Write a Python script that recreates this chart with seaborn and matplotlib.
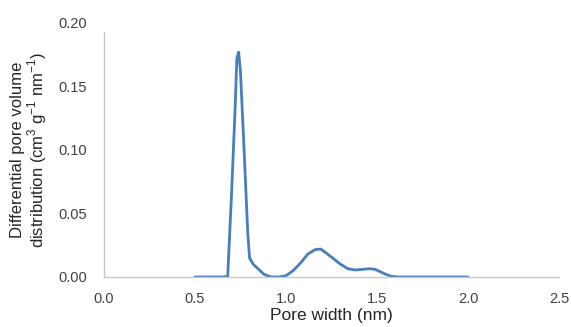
import matplotlib
matplotlib.use('Agg')
import matplotlib.pyplot as plt
import seaborn as sns
import pandas as pd

# pore size distribution
pore_width = [0.50, 0.55, 0.60, 0.65, 0.68, 0.70, 0.72, 0.73, 0.74, 0.75, 0.77, 0.79, 0.80,
              0.82, 0.85, 0.88, 0.92, 0.96, 1.00, 1.04, 1.08, 1.12, 1.16, 1.19, 1.22, 1.26,
              1.30, 1.34, 1.38, 1.42, 1.46, 1.49, 1.52, 1.55, 1.58, 1.62, 1.70, 1.80, 1.90, 2.00]
diff_volume = [0.0, 0.0, 0.0, 0.0, 0.0005, 0.062, 0.13, 0.172, 0.177, 0.162, 0.10, 0.035, 0.015,
               0.010, 0.006, 0.002, 0.0, 0.0, 0.001, 0.005, 0.011, 0.018, 0.0215, 0.022, 0.019, 0.0145,
               0.010, 0.0065, 0.0055, 0.006, 0.0065, 0.006, 0.004, 0.002, 0.0005, 0.0, 0.0, 0.0, 0.0, 0.0]

x_ticks = [0.0, 0.5, 1.0, 1.5, 2.0, 2.5]
y_ticks = [0.00, 0.05, 0.10, 0.15, 0.20]

df = pd.DataFrame({'w': pore_width, 'v': diff_volume})

sns.set_style('white')
plt.rcParams['font.family'] = ['Liberation Sans', 'DejaVu Sans']
plt.rcParams['mathtext.fontset'] = 'custom'
plt.rcParams['mathtext.rm'] = 'Liberation Sans'

fig = plt.figure(figsize=(5.71, 3.27), dpi=100)
ax = fig.add_axes([0.182, 0.153, 0.797, 0.777])

sns.lineplot(data=df, x='w', y='v', color='#4a7ebb', linewidth=2, ax=ax, estimator=None)

ax.set_xlim(0, 2.5)
ax.set_ylim(0, 0.2)
ax.set_xticks(x_ticks)
ax.set_yticks(y_ticks)
ax.set_xticklabels([f'{t:.1f}' for t in x_ticks])
ax.set_yticklabels([f'{t:.2f}' for t in y_ticks])

for s in ['top', 'right']:
    ax.spines[s].set_visible(False)
for s in ['left', 'bottom']:
    ax.spines[s].set_color('#c8c8c8')
    ax.spines[s].set_linewidth(1)
# the y spine stops a little short of the top label in the original
ax.spines['left'].set_bounds(0, 0.193)
ax.yaxis.get_major_ticks()[-1].tick1line.set_visible(False)
ax.set_yticks([0.193], minor=True)
ax.tick_params(axis='y', which='minor', direction='in', length=5, color='#c8c8c8')

ax.tick_params(axis='x', direction='in', length=4, color='#c8c8c8', labelsize=10.5,
               labelcolor='#404040', pad=11)
ax.tick_params(axis='y', direction='in', length=5, color='#c8c8c8', labelsize=10.5,
               labelcolor='#404040', pad=12)

ax.set_xlabel('Pore width (nm)', fontsize=12.5, color='#262626', labelpad=1)
ax.set_ylabel('Differential pore volume\ndistribution (cm$^{3}$ g$^{-1}$ nm$^{-1}$)',
              fontsize=12, color='#262626', labelpad=7, linespacing=1.0)

plt.savefig('out.png', dpi=100)
plt.close('all')
